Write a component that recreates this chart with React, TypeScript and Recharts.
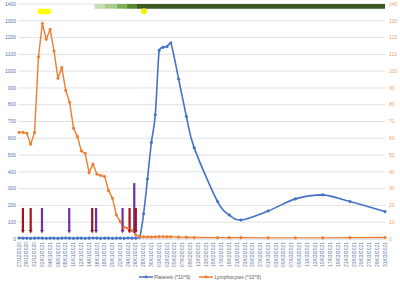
import React from 'react';
import {
  ComposedChart, Line, XAxis, YAxis, CartesianGrid, Legend,
  ReferenceArea, ReferenceDot, ReferenceLine,
} from 'recharts';

// ---- data ----
const sampleDates = [
  '27/12/2020', '28/12/2020', '29/12/2020', '30/12/2020', '31/12/2020',
  '01/01/2021', '02/01/2021', '03/01/2021', '04/01/2021', '05/01/2021',
  '06/01/2021', '07/01/2021', '08/01/2021', '09/01/2021', '10/01/2021',
  '11/01/2021', '12/01/2021', '13/01/2021', '14/01/2021', '15/01/2021',
  '16/01/2021', '17/01/2021', '18/01/2021', '19/01/2021', '20/01/2021',
  '21/01/2021', '22/01/2021', '23/01/2021', '24/01/2021', '25/01/2021',
  '26/01/2021', '27/01/2021', '28/01/2021', '29/01/2021', '30/01/2021',
  '31/01/2021', '01/02/2021', '02/02/2021', '03/02/2021', '04/02/2021',
  '06/02/2021', '08/02/2021', '10/02/2021', '16/02/2021', '19/02/2021',
  '22/02/2021', '01/03/2021', '08/03/2021', '15/03/2021', '22/03/2021',
  '31/03/2021',
];

const platelets = [
  6, 5, 5, 4, 5, 6, 5, 4, 5, 5,
  4, 5, 6, 5, 4, 5, 5, 4, 5, 6,
  5, 4, 5, 5, 4, 5, 5, 4, 6, 5,
  5, 10, 150, 358, 575, 740, 1124, 1142, 1146, 1168,
  953, 730, 543, 223, 143, 113, 167, 239, 263, 223,
  163,
];

const lymphocytes = [
  63.5, 63.5, 63, 56.5, 63.5, 108.5, 128.4, 119, 124.8, 112,
  95.7, 102, 88.5, 81.5, 66, 61, 52.5, 51, 39.5, 44.6,
  38.6, 37.8, 37.2, 28.8, 24.3, 14.3, 10.3, 7, 6.4, 5,
  2.4, 1.4, 1.3, 1.2, 1.2, 1.3, 1.4, 1.4, 1.3, 1.3,
  1.1, 1.0, 0.9, 0.8, 0.8, 0.8, 0.7, 0.7, 0.7, 0.8,
  0.9,
];

const tickLabels = [
  '27/12/2020', '29/12/2020', '31/12/2020', '02/01/2021', '04/01/2021',
  '06/01/2021', '08/01/2021', '10/01/2021', '12/01/2021', '14/01/2021',
  '16/01/2021', '18/01/2021', '20/01/2021', '22/01/2021', '24/01/2021',
  '26/01/2021', '28/01/2021', '30/01/2021', '01/02/2021', '03/02/2021',
  '05/02/2021', '07/02/2021', '09/02/2021', '11/02/2021', '13/02/2021',
  '15/02/2021', '17/02/2021', '19/02/2021', '21/02/2021', '23/02/2021',
  '25/02/2021', '27/02/2021', '01/03/2021', '03/03/2021', '05/03/2021',
  '07/03/2021', '09/03/2021', '11/03/2021', '13/03/2021', '15/03/2021',
  '17/03/2021', '19/03/2021', '21/03/2021', '23/03/2021', '25/03/2021',
  '27/03/2021', '29/03/2021', '31/03/2021',
];

const leftTicks = [0, 100, 200, 300, 400, 500, 600, 700, 800, 900, 1000, 1100, 1200, 1300, 1400];
const rightTicks = [0, 10, 20, 30, 40, 50, 60, 70, 80, 90, 100, 110, 120, 130, 140];

// annotation arrows (day offset from start, top value on left axis, kind)
const arrowDays = [1, 3, 5.9, 12.9, 18.8, 19.8, 26.6, 28.4, 29.6, 30.0];
const arrowTops = [185, 185, 185, 185, 185, 185, 185, 185, 333, 185];
const arrowKinds = ['red', 'red', 'purple', 'purple', 'red', 'purple', 'purple', 'red', 'purple', 'red'];
const arrowBottom = 33;

// green band segments at top (day ranges)
const bandStarts = [19.4, 22.1, 25.1, 27.7, 30.3];
const bandEnds = [22.1, 25.1, 27.7, 30.3, 94];

// yellow markers
const yellowBox = { x1: 4.8, x2: 8.2, y1: 1339, y2: 1371 };
const yellowDot = { x: 32.1, y: 1357 };

// ---- helpers ----
const dayOf = (s: string) => {
  const [d, m, y] = s.split('/').map(Number);
  return Math.round((Date.UTC(y, m - 1, d) - Date.UTC(2020, 11, 27)) / 86400000);
};

const data = sampleDates.map((s, i) => ({
  day: dayOf(s),
  platelets: platelets[i],
  lymphocytes: lymphocytes[i],
}));

const tickDays = tickLabels.map(dayOf);
const labelByDay: Record<number, string> = {};
tickLabels.forEach((l) => { labelByDay[dayOf(l)] = l; });

// Excel-like smoothed line (Catmull-Rom in pixel space, control points clamped to avoid overshoot)
const clamp = (v: number, a: number, b: number) => Math.max(Math.min(a, b), Math.min(Math.max(a, b), v));
const excelSmooth = (context: any) => {
  let pts: number[][] = [];
  return {
    areaStart() {},
    areaEnd() {},
    lineStart() { pts = []; },
    point(x: number, y: number) { pts.push([+x, +y]); },
    lineEnd() {
      const n = pts.length;
      if (!n) return;
      context.moveTo(pts[0][0], pts[0][1]);
      for (let i = 0; i < n - 1; i++) {
        const p0 = pts[i - 1] || pts[i];
        const p1 = pts[i];
        const p2 = pts[i + 1];
        const p3 = pts[i + 2] || pts[i + 1];
        const c1y = clamp(p1[1] + (p2[1] - p0[1]) / 6, p1[1], p2[1]);
        const c2y = clamp(p2[1] - (p3[1] - p1[1]) / 6, p1[1], p2[1]);
        context.bezierCurveTo(
          p1[0] + (p2[0] - p0[0]) / 6, c1y,
          p2[0] - (p3[0] - p1[0]) / 6, c2y,
          p2[0], p2[1],
        );
      }
    },
  };
};

const FONT = '"Liberation Sans", Arial, sans-serif';
const BLUE = '#4472C4';
const ORANGE = '#ED7D31';
const ARROW_COLORS: Record<string, string> = { red: '#A50F1E', purple: '#7030A0' };
const BAND_COLORS = ['#C6DDB3', '#A8CC8C', '#7DB052', '#55872F', '#3A5A22'];

const XTick = (props: any) => {
  const { x, y, payload } = props;
  return (
    <text
      x={x}
      y={y}
      transform={`rotate(-90, ${x}, ${y})`}
      textAnchor="end"
      dy={1.7}
      fontSize={5}
      fontFamily={FONT}
      fill="#6A7BA6"
    >
      {labelByDay[payload.value]}
    </text>
  );
};

const ArrowShape = (props: any) => {
  const { x1, y1, x2, y2, stroke } = props;
  const top = Math.min(y1, y2);
  const tip = Math.max(y1, y2);
  const x = x1;
  const head = 3.5;
  return (
    <g>
      <line x1={x} y1={top} x2={x} y2={tip - head + 0.5} stroke={stroke} strokeWidth={2.2} />
      <polygon points={`${x - 1.9},${tip - head} ${x + 1.9},${tip - head} ${x},${tip}`} fill={stroke} />
    </g>
  );
};

const LegendContent = () => (
  <div
    style={{
      display: 'flex', justifyContent: 'center', alignItems: 'center',
      height: 10, fontSize: 5, fontFamily: FONT, color: '#595959',
      transform: 'translateY(1px)',
    }}
  >
    <span style={{ display: 'flex', alignItems: 'center', marginRight: 9 }}>
      <svg width={14} height={4}>
        <line x1={0} y1={2} x2={14} y2={2} stroke={BLUE} strokeWidth={1.5} />
        <circle cx={7} cy={2} r={1.4} fill={BLUE} />
      </svg>
      <span style={{ marginLeft: 1 }}>Platelets (*10^9)</span>
    </span>
    <span style={{ display: 'flex', alignItems: 'center' }}>
      <svg width={14} height={4}>
        <line x1={0} y1={2} x2={14} y2={2} stroke={ORANGE} strokeWidth={1.5} />
        <circle cx={7} cy={2} r={1.4} fill={ORANGE} />
      </svg>
      <span style={{ marginLeft: 1 }}>Lymphocytes (*10^9)</span>
    </span>
  </div>
);

export default function App() {
  return (
    <div style={{ position: 'absolute', left: 0, top: 0, width: 400, height: 281, background: '#fff' }}>
      <ComposedChart
        width={400}
        height={281}
        data={data}
        margin={{ top: 4, right: 0, bottom: 0, left: 0 }}
      >
        <CartesianGrid yAxisId="left" horizontal vertical={false} stroke="#D9D9D9" strokeWidth={0.8} />
        <XAxis
          dataKey="day"
          type="number"
          domain={[0, 94]}
          ticks={tickDays}
          interval={0}
          tick={<XTick />}
          tickLine={false}
          tickSize={0}
          tickMargin={3}
          axisLine={{ stroke: '#D9D9D9' }}
          height={32}
        />
        <YAxis
          yAxisId="left"
          domain={[0, 1400]}
          ticks={leftTicks}
          interval={0}
          width={19}
          axisLine={false}
          tickLine={false}
          tickSize={0}
          tickMargin={3}
          tick={{ fontSize: 5, fill: '#5D74AE', fontFamily: FONT }}
        />
        <YAxis
          yAxisId="right"
          orientation="right"
          domain={[0, 140]}
          ticks={rightTicks}
          interval={0}
          width={15}
          axisLine={false}
          tickLine={false}
          tickSize={0}
          tickMargin={4}
          tick={{ fontSize: 5, fill: '#E9A46F', fontFamily: FONT }}
        />
        <Legend verticalAlign="bottom" height={10} content={<LegendContent />} />

        {bandStarts.map((s, i) => (
          <ReferenceArea
            key={`band-${i}`}
            yAxisId="left"
            x1={s}
            x2={bandEnds[i]}
            y1={1372}
            y2={1400}
            fill={BAND_COLORS[i]}
            fillOpacity={1}
            stroke="none"
            ifOverflow="visible"
          />
        ))}
        <ReferenceArea
          yAxisId="left"
          x1={yellowBox.x1}
          x2={yellowBox.x2}
          y1={yellowBox.y1}
          y2={yellowBox.y2}
          fill="#FFFF00"
          fillOpacity={1}
          stroke="none"
          radius={2}
        />
        <ReferenceDot
          yAxisId="left"
          x={yellowDot.x}
          y={yellowDot.y}
          r={3}
          fill="#F2F200"
          stroke="none"
        />

        <Line
          yAxisId="left"
          type={excelSmooth as any}
          dataKey="platelets"
          name="Platelets (*10^9)"
          stroke={BLUE}
          strokeWidth={1.6}
          dot={{ r: 1.3, fill: BLUE, stroke: BLUE, strokeWidth: 0.5 }}
          isAnimationActive={false}
        />
        <Line
          yAxisId="right"
          type="linear"
          dataKey="lymphocytes"
          name="Lymphocytes (*10^9)"
          stroke={ORANGE}
          strokeWidth={1.4}
          dot={{ r: 1.3, fill: ORANGE, stroke: ORANGE, strokeWidth: 0.5 }}
          isAnimationActive={false}
        />

        {arrowDays.map((d, i) => (
          <ReferenceLine
            key={`arrow-${i}`}
            yAxisId="left"
            segment={[{ x: d, y: arrowTops[i] }, { x: d, y: arrowBottom }]}
            stroke={ARROW_COLORS[arrowKinds[i]]}
            shape={<ArrowShape />}
            ifOverflow="visible"
          />
        ))}
      </ComposedChart>
    </div>
  );
}
